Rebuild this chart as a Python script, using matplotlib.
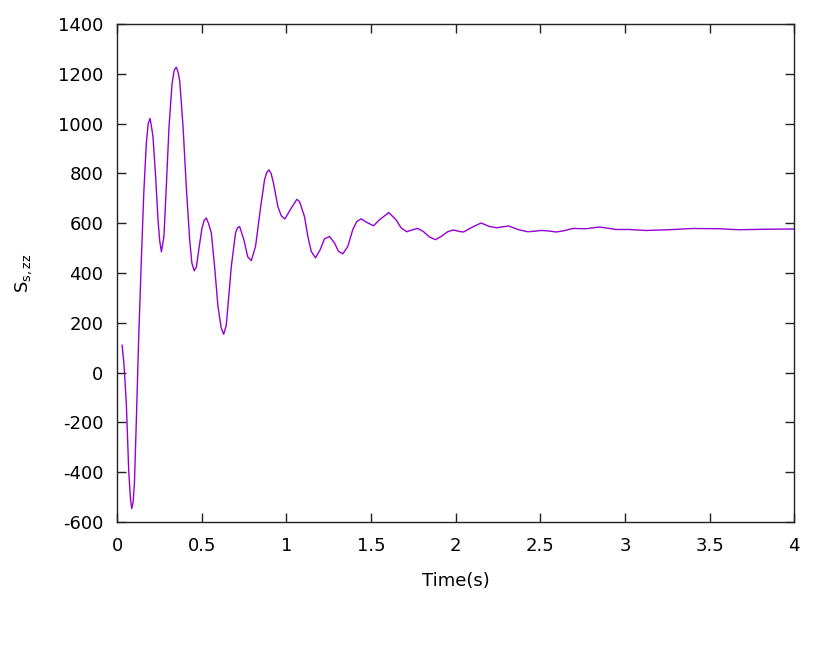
import numpy as np
import matplotlib.pyplot as plt

plt.rcParams['font.family'] = 'DejaVu Sans'
plt.rcParams['mathtext.fontset'] = 'dejavusans'
plt.rcParams['axes.unicode_minus'] = False

# values (time in s, stress)
time = [0.030, 0.041, 0.055, 0.069, 0.079, 0.087, 0.095, 0.103, 0.114, 0.128,
        0.144, 0.158, 0.173, 0.184, 0.195, 0.203, 0.212, 0.228, 0.242, 0.252,
        0.262, 0.277, 0.291, 0.307, 0.325, 0.338, 0.350, 0.360, 0.370, 0.390,
        0.409, 0.429, 0.442, 0.456, 0.469, 0.484, 0.502, 0.515, 0.527, 0.540,
        0.557, 0.576, 0.596, 0.615, 0.630, 0.645, 0.655, 0.675, 0.700, 0.712,
        0.724, 0.749, 0.772, 0.793, 0.818, 0.846, 0.871, 0.885, 0.897, 0.910,
        0.924, 0.950, 0.970, 0.991, 1.029, 1.062, 1.078, 1.107, 1.127, 1.147,
        1.172, 1.200, 1.225, 1.255, 1.284, 1.308, 1.333, 1.363, 1.392, 1.416,
        1.442, 1.471, 1.515, 1.550, 1.605, 1.648, 1.678, 1.711, 1.746, 1.776,
        1.809, 1.845, 1.880, 1.914, 1.953, 1.986, 2.022, 2.047, 2.100, 2.150,
        2.199, 2.242, 2.280, 2.313, 2.372, 2.425, 2.465, 2.504, 2.550, 2.592,
        2.640, 2.690, 2.770, 2.848, 2.900, 2.946, 3.025, 3.123, 3.260, 3.398,
        3.556, 3.674, 3.830, 4.000]
stress = [110, 34, -126, -393, -505, -546, -520, -440, -193, 141,
          460, 721, 921, 1000, 1021, 990, 950, 787, 614, 530,
          485, 547, 747, 987, 1161, 1215, 1227, 1208, 1174, 987,
          747, 534, 440, 409, 425, 500, 581, 612, 621, 600,
          561, 427, 267, 180, 154, 190, 267, 427, 561, 582,
          587, 534, 465, 450, 507, 654, 774, 805, 814, 800,
          761, 667, 630, 617, 661, 696, 687, 627, 547, 487,
          461, 494, 537, 547, 521, 487, 477, 507, 574, 607,
          618, 605, 590, 614, 643, 614, 581, 566, 574, 579,
          567, 545, 534, 547, 566, 573, 567, 565, 585, 601,
          587, 582, 586, 589, 574, 566, 568, 571, 569, 565,
          570, 579, 578, 585, 580, 575, 575, 571, 574, 579,
          578, 574, 576, 577]

fig = plt.figure(figsize=(8.3, 6.69), dpi=100)
ax = fig.add_axes([0.141, 0.2197, 0.816, 0.7443])
ax.plot(time, stress, color='#9400D3', linewidth=1.0)

ax.set_xlim(0, 4)
ax.set_ylim(-600, 1400)
ax.set_xticks(np.arange(0, 4.01, 0.5))
ax.set_xticklabels(['0', '0.5', '1', '1.5', '2', '2.5', '3', '3.5', '4'])
ax.set_yticks(np.arange(-600, 1401, 200))
ax.tick_params(direction='in', length=6.5, width=1, top=True, right=True,
               labelsize=13, color='#222222')
ax.tick_params(axis='x', pad=11)
ax.tick_params(axis='y', pad=10)
for s in ax.spines.values():
    s.set_linewidth(1)
    s.set_color('#222222')

ax.set_xlabel('Time(s)', fontsize=13, labelpad=12)
ax.set_ylabel(r'S$_{\mathregular{s,zz}}$', fontsize=13, labelpad=17)

plt.savefig('out.png', dpi=100)
